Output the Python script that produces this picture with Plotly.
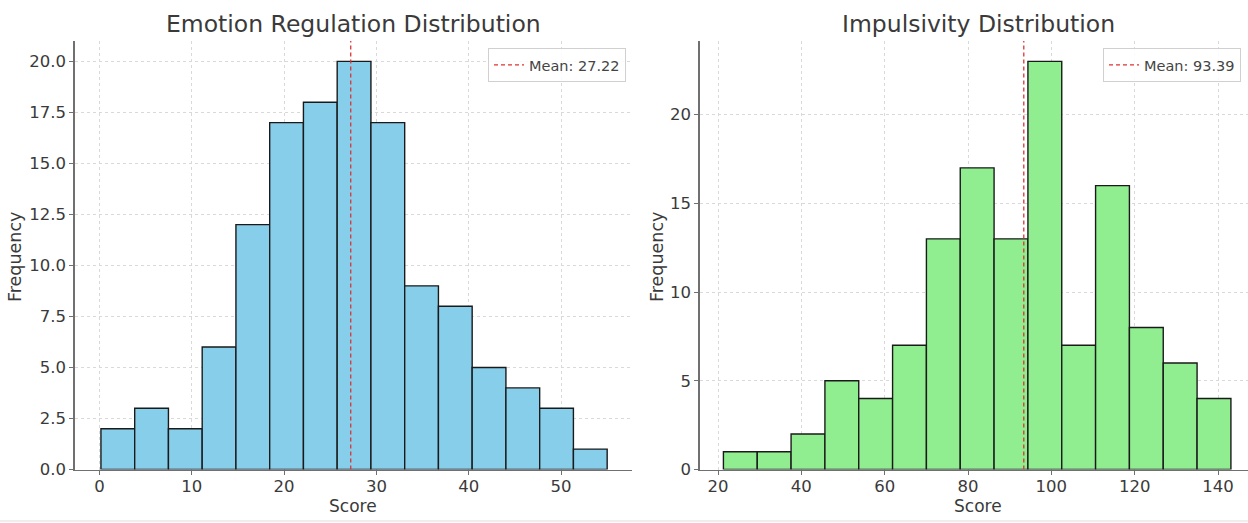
import numpy as np
import plotly.graph_objects as go

W, H = 1248, 523

# ---------------- data ----------------
er_counts = [2, 3, 2, 6, 12, 17, 18, 20, 17, 9, 8, 5, 4, 3, 1]
er_bin_start = 0.16
er_bin_width = 3.656
er_mean = 27.22

imp_counts = [1, 1, 2, 5, 4, 7, 13, 17, 13, 23, 7, 16, 8, 6, 4]
imp_bin_start = 21.3
imp_bin_width = 8.12
imp_mean = 93.39

er_xticks = [0, 10, 20, 30, 40, 50]
er_yticks = [0, 2.5, 5, 7.5, 10, 12.5, 15, 17.5, 20]
imp_xticks = [20, 40, 60, 80, 100, 120, 140]
imp_yticks = [0, 5, 10, 15, 20]

titles = ["Emotion Regulation Distribution", "Impulsivity Distribution"]

er_edges = er_bin_start + er_bin_width * np.arange(len(er_counts))
imp_edges = imp_bin_start + imp_bin_width * np.arange(len(imp_counts))

FONT = "DejaVu Sans"
TXT = "#3a3a3a"


def px_x(p):
    return p / W


def px_y(p):
    return 1 - p / H


fig = go.Figure()

fig.add_trace(go.Bar(
    x=er_edges, y=er_counts, width=er_bin_width, offset=0,
    marker=dict(color="#87CEEB", line=dict(color="#1a1a1a", width=1.4)),
    xaxis="x", yaxis="y", showlegend=False))

fig.add_trace(go.Bar(
    x=imp_edges, y=imp_counts, width=imp_bin_width, offset=0,
    marker=dict(color="#90EE90", line=dict(color="#1a1a1a", width=1.4)),
    xaxis="x2", yaxis="y2", showlegend=False))

er_ymax = 21.0
imp_ymax = 24.15

fig.add_trace(go.Scatter(
    x=[er_mean, er_mean], y=[0, er_ymax], mode="lines",
    line=dict(color="#dd3333", dash="4px,3px", width=1.3),
    name=f"Mean: {er_mean:.2f}", xaxis="x", yaxis="y", legend="legend"))

fig.add_trace(go.Scatter(
    x=[imp_mean, imp_mean], y=[0, imp_ymax], mode="lines",
    line=dict(color="#dd3333", dash="4px,3px", width=1.3),
    name=f"Mean: {imp_mean:.2f}", xaxis="x2", yaxis="y2", legend="legend2"))

ydom = [px_y(469.5), px_y(41)]

axis_common = dict(
    showline=True, linecolor="#707070", linewidth=1.6, mirror=False,
    showgrid=True, gridcolor="#d9d9d9", griddash="3px,3px", gridwidth=1,
    ticks="outside", ticklen=4, tickcolor="#707070", tickwidth=1,
    zeroline=False, automargin=False,
    tickfont=dict(family=FONT, size=16.5, color=TXT),
)

fig.update_layout(
    width=W, height=H, autosize=False,
    margin=dict(l=0, r=0, t=0, b=0, pad=0, autoexpand=False),
    paper_bgcolor="white", plot_bgcolor="white",
    bargap=0,
    font=dict(family=FONT, color=TXT),
    xaxis=dict(domain=[px_x(75), px_x(632)], range=[-2.65, 57.69],
               tickvals=er_xticks, anchor="y", ticklabelstandoff=-3, **axis_common),
    yaxis=dict(domain=ydom, range=[0, er_ymax], tickvals=er_yticks,
               tickformat=".1f", anchor="x", **axis_common),
    xaxis2=dict(domain=[px_x(700), 1.0], range=[15.68, 147.2],
                tickvals=imp_xticks, anchor="y2", ticklabelstandoff=-3, **axis_common),
    yaxis2=dict(domain=ydom, range=[0, imp_ymax], tickvals=imp_yticks,
                anchor="x2", **axis_common),
    legend=dict(xref="paper", yref="paper",
                x=px_x(626), y=px_y(48), xanchor="right", yanchor="top",
                bgcolor="rgba(255,255,255,0.85)", bordercolor="#d0d0d0",
                borderwidth=1, font=dict(family=FONT, size=14.5, color="#444444"),
                itemwidth=30, tracegroupgap=0),
    legend2=dict(xref="paper", yref="paper",
                 x=px_x(1103), y=px_y(48), xanchor="left", yanchor="top",
                 bgcolor="rgba(255,255,255,0.85)", bordercolor="#d0d0d0",
                 borderwidth=1, font=dict(family=FONT, size=14.5, color="#444444"),
                 itemwidth=30, tracegroupgap=0),
    shapes=[dict(type="line", xref="paper", yref="paper", x0=0, x1=1,
                 y0=px_y(521), y1=px_y(521), line=dict(color="#eeeeee", width=2))],
)

annos = [
    dict(text=titles[0], x=px_x(353), y=px_y(24), size=23.5),
    dict(text=titles[1], x=px_x(978), y=px_y(24), size=23.5),
    dict(text="Score", x=px_x(353), y=px_y(506), size=17),
    dict(text="Score", x=px_x(978), y=px_y(506), size=17),
]
for a in annos:
    fig.add_annotation(text=a["text"], x=a["x"], y=a["y"], xref="paper", yref="paper",
                       xanchor="center", yanchor="middle", showarrow=False,
                       font=dict(family=FONT, size=a["size"], color=TXT))
for xp in (15, 657):
    fig.add_annotation(text="Frequency", x=px_x(xp), y=px_y(257), xref="paper", yref="paper",
                       xanchor="center", yanchor="middle", showarrow=False, textangle=-90,
                       font=dict(family=FONT, size=17.5, color=TXT))

fig.write_html("out.html",
               config={"displayModeBar": False, "staticPlot": True},
               post_script="document.body.style.margin='0';document.body.style.overflow='hidden';")
